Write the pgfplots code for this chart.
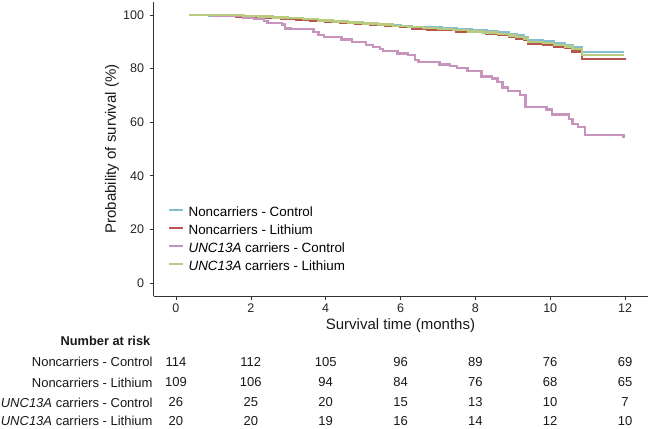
\documentclass[border=0pt]{standalone}
\usepackage{fontspec}
\setmainfont{Liberation Sans}
\usepackage{pgfplots}
\pgfplotsset{compat=1.18}
\definecolor{cblue}{HTML}{86BDD0}
\definecolor{cred}{HTML}{B5574C}
\definecolor{cpink}{HTML}{C794BD}
\definecolor{cgreen}{HTML}{B8CB7E}
\definecolor{axgray}{HTML}{333333}
\pgfplotstableread{
x y n
0 66 114
2 66 112
4 66 105
6 66 96
8 66 89
10 66 76
12 66 69
0 45.5 109
2 45.5 106
4 45.5 94
6 45.5 84
8 45.5 76
10 45.5 68
12 45.5 65
0 25.5 26
2 25.5 25
4 25.5 20
6 25.5 15
8 25.5 13
10 25.5 10
12 25.5 7
0 7 20
2 7 20
4 7 19
6 7 16
8 7 14
10 7 12
12 7 10
}\risktable
\begin{document}
\begin{tikzpicture}[x=1pt,y=1pt]
\path[use as bounding box, fill=white] (0,0) rectangle (652,428);
\begin{axis}[
  at={(153.5pt,131.6pt)}, anchor=south west,
  scale only axis, width=494pt, height=294.8pt,
  xmin=-0.6, xmax=12.6, ymin=-5, ymax=105,
  axis lines=left, axis line style={-, line width=0.8pt, axgray},
  xtick={0,2,...,12}, ytick={0,20,...,100},
  tick align=outside, major tick length=4pt,
  tick style={line width=0.6pt, axgray},
  /pgf/number format/assume math mode=true,
  ticklabel style={font=\fontsize{12.5}{14}\selectfont, text=black!85},
  yticklabel style={xshift=-2pt},
  xlabel={Survival time (months)},
  ylabel={Probability of survival (\%)},
  label style={font=\fontsize{15}{17}\selectfont, text=black!90},
  xlabel style={at={(axis description cs:0.5,-0.0984)}, anchor=center},
  ylabel style={at={(axis description cs:-0.084,0.5)}, anchor=center},
  legend style={at={(axis description cs:0.0294,0.301)}, anchor=north west,
    draw=none, fill=none, inner sep=0pt, row sep=7pt,
    font=\fontsize{13.4}{15}\selectfont,
    nodes={inner sep=0pt, text height=9pt, text depth=2pt}},
  legend cell align=left,
  legend image code/.code={\draw[#1, line width=1.3pt] (0pt,3.5pt) -- (14pt,3.5pt); \path (18.5pt,3.5pt);},
]
\addplot[cblue, const plot, mark=none, line width=2.4pt] coordinates {
(0.35,100)(0.9,99.8)(1.5,99.6)(2.0,99.3)(2.4,99.0)(2.8,98.7)(3.2,98.3)(3.6,98.0)(4.0,97.6)(4.4,97.3)(4.8,97.0)(5.2,96.7)(5.6,96.3)(6.0,96.0)(6.3,95.6)(6.7,95.3)(7.1,95.0)(7.5,94.6)(7.9,94.3)(8.3,93.9)(8.6,93.5)(8.9,92.9)(9.1,92.4)(9.3,91.7)(9.4,90.6)(9.8,90.3)(10.1,89.5)(10.4,88.9)(10.6,88.1)(10.85,86.3)(11.98,86.3)};
\addlegendentry{Noncarriers - Control}
\addplot[cred, const plot, mark=none, line width=2.4pt] coordinates {
(0.35,100)(1.0,99.8)(1.6,99.5)(2.0,99.2)(2.4,98.9)(2.8,98.5)(3.2,98.1)(3.6,97.7)(4.0,97.3)(4.4,97.0)(4.8,96.6)(5.2,96.3)(5.6,95.9)(6.0,95.5)(6.3,94.9)(6.7,94.6)(7.1,94.3)(7.5,93.9)(7.9,93.6)(8.3,93.1)(8.6,92.6)(8.9,91.8)(9.1,91.3)(9.3,90.8)(9.4,89.4)(9.8,89.0)(10.1,88.3)(10.4,87.6)(10.6,86.4)(10.85,83.5)(11.98,83.2)};
\addlegendentry{Noncarriers - Lithium}
\addplot[cpink, const plot, mark=none, line width=2.4pt] coordinates {
(0.35,100)(1.00,99.6)(1.80,99.0)(2.08,98.4)(2.36,97.8)(2.45,97.1)(2.83,96.4)(2.92,95.0)(3.06,94.8)(3.67,93.7)(3.81,92.5)(3.95,91.8)(4.42,90.8)(4.70,89.9)(5.07,88.9)(5.26,88.1)(5.45,87.2)(5.54,86.5)(5.92,85.6)(6.20,85.0)(6.39,83.1)(6.48,82.4)(7.04,81.6)(7.32,80.9)(7.51,80.2)(7.79,79.1)(8.16,77.1)(8.45,76.3)(8.59,75.0)(8.73,72.9)(8.87,71.7)(9.19,70.1)(9.34,65.7)(9.90,64.7)(10.04,62.9)(10.51,61.3)(10.60,59.4)(10.75,58.1)(10.93,55.2)(11.96,54.0)};
\addlegendentry{\textit{UNC13A} carriers - Control}
\addplot[cgreen, const plot, mark=none, line width=2.4pt] coordinates {
(0.35,100)(1.2,99.9)(1.8,99.7)(2.2,99.4)(2.6,99.1)(3.0,98.8)(3.4,98.5)(3.8,98.0)(4.2,97.6)(4.6,97.2)(5.0,96.8)(5.4,96.4)(5.8,96.0)(6.2,95.5)(6.6,95.1)(7.0,94.7)(7.4,94.3)(7.8,93.9)(8.2,93.5)(8.6,93.0)(8.9,92.3)(9.1,91.8)(9.3,91.2)(9.4,90.0)(9.8,89.6)(10.1,88.9)(10.4,88.2)(10.6,87.2)(10.85,85.0)(11.98,85.0)};
\addlegendentry{\textit{UNC13A} carriers - Lithium}
\end{axis}
\begin{axis}[
  at={(153.5pt,0pt)}, anchor=south west,
  scale only axis, width=494pt, height=428pt,
  xmin=-0.6, xmax=12.6, ymin=0, ymax=428,
  hide axis, clip=false,
]
\addplot[only marks, mark=none, nodes near coords, point meta=explicit symbolic,
  nodes near coords style={anchor=center, inner sep=0pt, font=\fontsize{13}{15}\selectfont, text=black!90}]
  table[x=x, y=y, meta=n] {\risktable};
\begin{scope}[every node/.style={anchor=east, inner sep=0pt, font=\fontsize{13}{15}\selectfont, text=black!90}]
\node[font=\fontsize{12.8}{15}\selectfont\bfseries] at (axis cs:-0.68,87) {Number at risk};
\node at (axis cs:-0.62,66) {Noncarriers - Control};
\node at (axis cs:-0.62,45.5) {Noncarriers - Lithium};
\node at (axis cs:-0.62,25.5) {\textit{UNC13A} carriers - Control};
\node at (axis cs:-0.62,7) {\textit{UNC13A} carriers - Lithium};
\end{scope}
\end{axis}
\end{tikzpicture}
\end{document}
